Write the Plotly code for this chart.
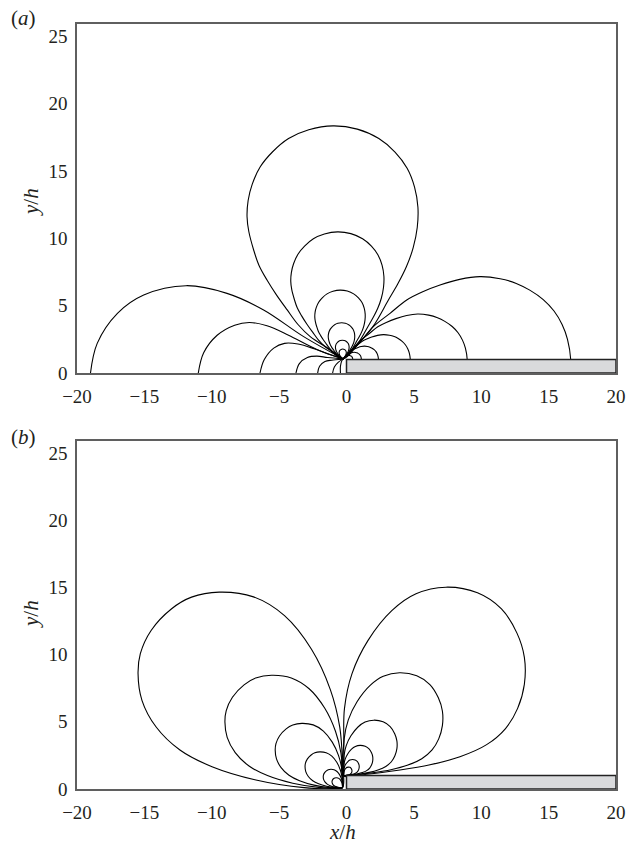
import plotly.graph_objects as go

# ---------------- data ----------------
X_TICKS = [-20, -15, -10, -5, 0, 5, 10, 15, 20]
Y_TICKS = [0, 5, 10, 15, 20, 25]
X_RANGE = [-20, 20]
Y_RANGE = [0, 25.9]

PLATE_X = [0, 20]
PLATE_Y = [0, 1]

# panel (a): convergence point and contour levels (relative size of each contour)
A_CENTER = [-0.25, 1.05]
A_LEVELS = [1.0, 0.545, 0.295, 0.155, 0.08, 0.042]

# largest upper lobe of panel (a)
A_TOP_X = [-0.25, -1.4, -2.69, -3.6, -4.4, -5.2, -5.9, -6.5, -6.89, -7.25, -7.38, -7.3,
           -7.0, -6.4, -5.5, -4.3, -2.8, -1.0, 0.8, 2.4, 3.6, 4.5, 5.05, 5.3, 5.25,
           4.95, 4.45, 3.8, 3.1, 2.0, 0.9, -0.25]
A_TOP_Y = [1.05, 1.85, 2.7, 3.6, 4.68, 5.8, 6.9, 8.0, 9.13, 10.5, 11.6, 12.8,
           14.0, 15.3, 16.4, 17.4, 18.05, 18.34, 18.1, 17.4, 16.4, 15.2, 13.8, 12.3, 10.8,
           9.3, 7.9, 6.6, 5.4, 3.5, 2.2, 1.05]

# largest right lobe of panel (a) (ends on the plate)
A_RIGHT_X = [-0.25, 0.8, 1.99, 3.23, 4.47, 5.7, 6.94, 8.4, 9.9, 11.4, 12.6, 13.6,
             14.6, 15.4, 16.0, 16.4, 16.64, 16.6]
A_RIGHT_Y = [1.05, 2.05, 3.44, 4.43, 5.42, 6.05, 6.53, 6.95, 7.15, 7.0, 6.65, 6.15,
             5.45, 4.6, 3.6, 2.5, 1.0, -0.2]

# left lobes of panel (a), each ending on the ground
A_LEFT_X = [
    [-19.0, -18.5, -17.0, -15.05, -11.9, -8.87, -6.15, -3.18, -0.25],
    [-11.0, -10.6, -9.6, -8.3, -7.2, -5.9, -4.3, -2.2, -0.25],
    [-6.42, -6.1, -5.4, -4.6, -3.6, -2.4, -1.2, -0.25],
    [-3.75, -3.5, -2.9, -2.2, -1.4, -0.25],
    [-2.14, -2.0, -1.6, -1.1, -0.6, -0.25],
    [-1.03, -0.9, -0.6, -0.25],
    [-0.45, -0.45, -0.35, -0.25],
]
A_LEFT_Y = [
    [0.0, 2.2, 4.43, 5.79, 6.48, 5.91, 4.68, 2.7, 1.05],
    [0.0, 1.5, 2.8, 3.55, 3.75, 3.5, 2.8, 1.75, 1.05],
    [0.0, 1.0, 1.85, 2.2, 2.15, 1.8, 1.35, 1.05],
    [0.0, 0.7, 1.15, 1.25, 1.15, 1.05],
    [0.0, 0.5, 0.85, 0.95, 1.0, 1.05],
    [0.0, 0.45, 0.8, 1.05],
    [0.0, 0.5, 0.9, 1.05],
]

# panel (b): left lobes
B_LEFT_CENTER = [-0.3, 0.1]
B_LEFT_LEVELS = [1.0, 0.575, 0.329, 0.183, 0.094, 0.051]
B_LEFT_X = [-0.3, -0.3, -0.5, -1.2, -2.6, -4.6, -6.9, -9.45, -11.5, -13.0, -14.5, -15.3,
            -15.47, -15.18, -14.14, -12.36, -9.98, -6.72, -3.15, -1.0, -0.3]
B_LEFT_Y = [0.1, 2.0, 4.6, 7.4, 10.4, 12.9, 14.3, 14.65, 14.28, 13.4, 11.8, 10.07,
            8.59, 6.6, 4.63, 2.9, 1.66, 0.67, 0.1, 0.02, 0.1]

# panel (b): right lobes
B_RIGHT_CENTER = [-0.2, 1.0]
B_RIGHT_LEVELS = [1.0, 0.546, 0.294, 0.16, 0.085, 0.045]
B_RIGHT_X = [-0.2, -0.2, -0.15, 0.41, 1.6, 3.38, 5.16, 7.38, 9.72, 11.5, 12.65, 13.2,
             13.2, 12.7, 11.8, 10.4, 8.42, 6.2, 3.97, 1.5, -0.2]
B_RIGHT_Y = [1.0, 3.5, 6.0, 8.59, 11.06, 13.29, 14.53, 15.02, 14.6, 13.4, 11.6, 9.8,
             7.8, 6.0, 4.5, 3.3, 2.4, 1.8, 1.41, 1.1, 1.0]

# ---------------- figure ----------------
W, H = 626, 847
FONT = "Liberation Serif, Times New Roman, serif"
TXT = "#231f20"
LINE = dict(color="#000000", width=1.1, shape="spline", smoothing=1.0)


def scaled(xs, ys, c, s):
    return [c[0] + s * (v - c[0]) for v in xs], [c[1] + s * (v - c[1]) for v in ys]


fig = go.Figure()


def add_line(xs, ys, ax):
    fig.add_trace(go.Scatter(x=xs, y=ys, mode="lines", line=LINE, xaxis="x" + ax,
                             yaxis="y" + ax, showlegend=False, hoverinfo="skip"))


# panel (a)
for s in A_LEVELS:
    add_line(*scaled(A_TOP_X, A_TOP_Y, A_CENTER, s), "")
    add_line(*scaled(A_RIGHT_X, A_RIGHT_Y, A_CENTER, s), "")
for lx, ly in zip(A_LEFT_X, A_LEFT_Y):
    add_line(lx, ly, "")

# panel (b)
for s in B_LEFT_LEVELS:
    add_line(*scaled(B_LEFT_X, B_LEFT_Y, B_LEFT_CENTER, s), "2")
for s in B_RIGHT_LEVELS:
    add_line(*scaled(B_RIGHT_X, B_RIGHT_Y, B_RIGHT_CENTER, s), "2")


def px_x(p):
    return p / W


def px_y(p):
    return 1 - p / H


axis_common = dict(range=X_RANGE, tickvals=X_TICKS, showgrid=False, zeroline=False,
                   showline=True, mirror=True, linecolor="#5f5f5f", linewidth=1.5,
                   ticks="outside", ticklen=5, tickcolor="rgba(0,0,0,0)", automargin=False,
                   tickfont=dict(family=FONT, size=19, color=TXT), fixedrange=True)
yaxis_common = dict(range=Y_RANGE, tickvals=Y_TICKS, showgrid=False, zeroline=False,
                    showline=True, mirror=True, linecolor="#5f5f5f", linewidth=1.5,
                    ticks="outside", ticklen=4, tickcolor="rgba(0,0,0,0)", automargin=False,
                    tickfont=dict(family=FONT, size=19, color=TXT), fixedrange=True)

xdom = [px_x(77), px_x(616)]
fig.update_layout(
    template="none",
    width=W, height=H, margin=dict(l=0, r=0, t=0, b=0, autoexpand=False),
    paper_bgcolor="white", plot_bgcolor="white",
    xaxis=dict(domain=xdom, anchor="y", **axis_common),
    yaxis=dict(domain=[px_y(373), px_y(24)], anchor="x", **yaxis_common),
    xaxis2=dict(domain=xdom, anchor="y2", **axis_common),
    yaxis2=dict(domain=[px_y(789), px_y(441)], anchor="x2", **yaxis_common),
)

for xr, yr in (("x", "y"), ("x2", "y2")):
    fig.add_shape(type="rect", xref=xr, yref=yr, x0=PLATE_X[0], x1=PLATE_X[1],
                  y0=PLATE_Y[0], y1=PLATE_Y[1], fillcolor="#d9dadc",
                  line=dict(color="#222222", width=1.5), layer="above")

ann = [
    ("(<i>a</i>)", 23, 18, 0),
    ("(<i>b</i>)", 23, 437, 0),
    ("<i>y</i>/<i>h</i>", 31, 202, -90),
    ("<i>y</i>/<i>h</i>", 31, 614, -90),
    ("<i>x</i>/<i>h</i>", 342, 832, 0),
]
for text, x, y, ang in ann:
    fig.add_annotation(text=text, x=px_x(x), y=px_y(y), xref="paper", yref="paper",
                       showarrow=False, textangle=ang, xanchor="center", yanchor="middle",
                       font=dict(family=FONT, size=21, color=TXT))

fig.write_html("out.html")
